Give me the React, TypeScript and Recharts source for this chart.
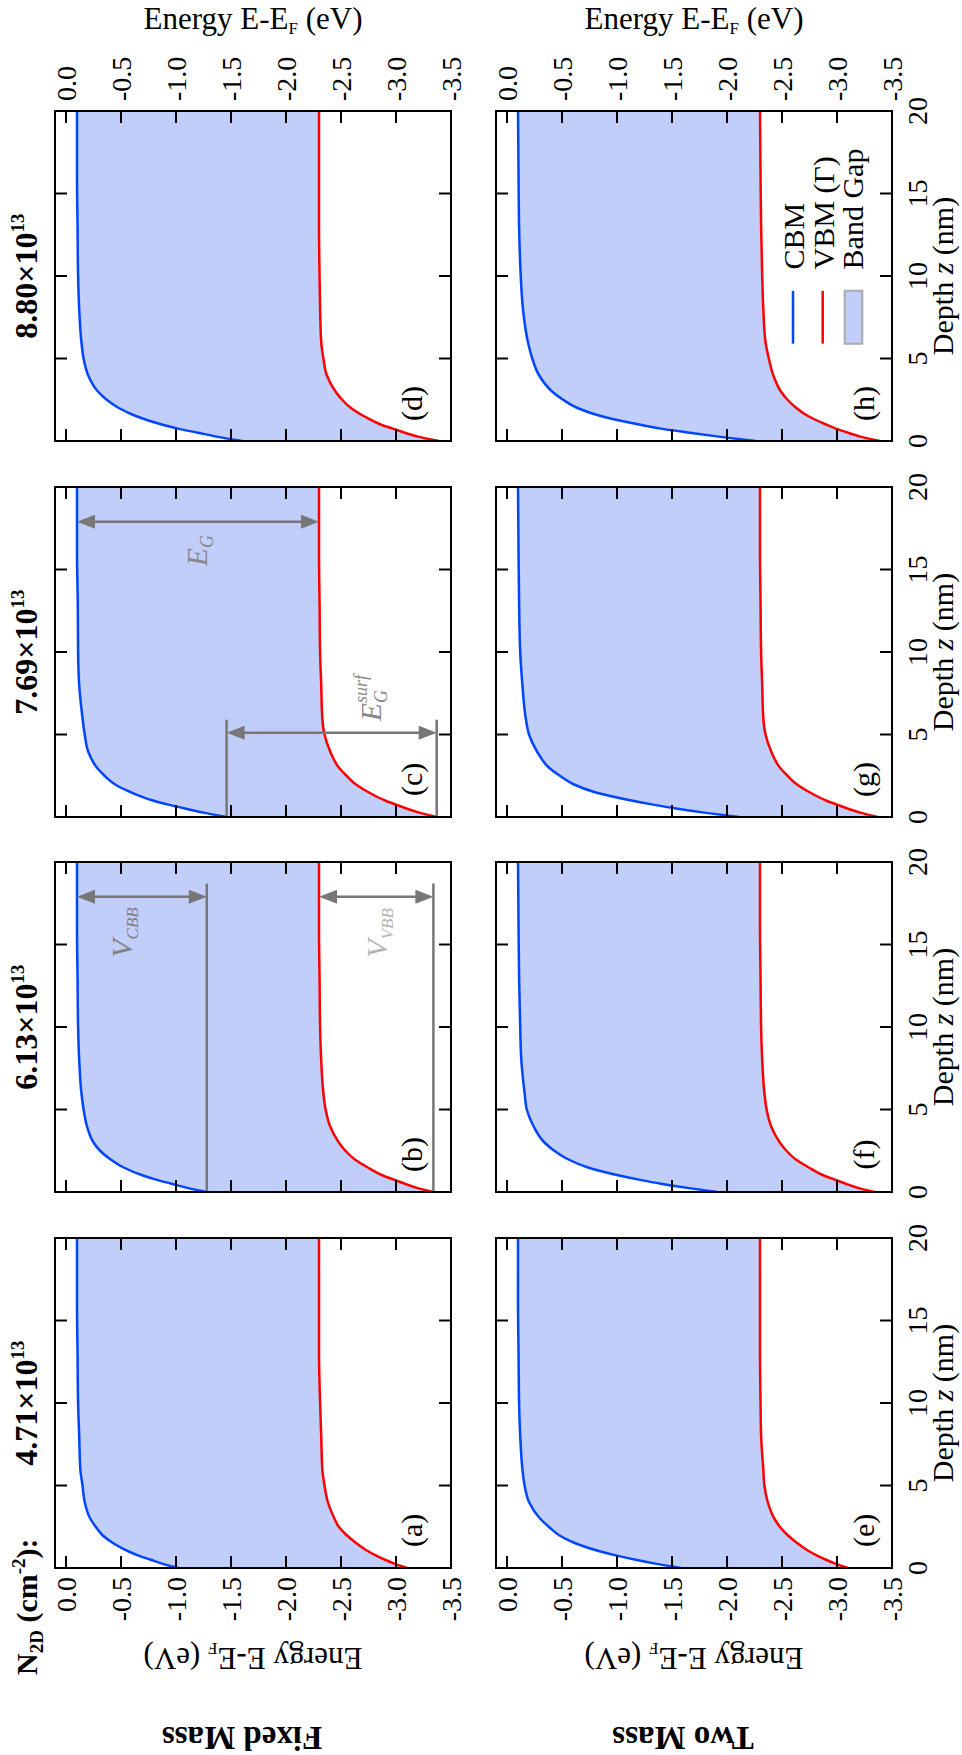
import React from "react";
import {
  ComposedChart,
  Area,
  Line,
  XAxis,
  YAxis,
  ReferenceLine,
  ReferenceDot,
  ReferenceArea,
} from "recharts";

// depth grid, nm
const depth = [0, 0.25, 0.5, 0.75, 1, 1.5, 2, 2.5, 3, 4, 5, 6, 8, 10, 13, 16, 20];

// Fixed Mass row
const cbmA = [-1.02, -0.88, -0.77, -0.66, -0.57, -0.43, -0.33, -0.27, -0.22, -0.17, -0.15, -0.13, -0.12, -0.11, -0.105, -0.1, -0.1];
const vbmA = [-3.1, -2.99, -2.9, -2.82, -2.75, -2.64, -2.55, -2.48, -2.44, -2.38, -2.35, -2.33, -2.32, -2.31, -2.3, -2.3, -2.3];
const cbmB = [-1.28, -1.1, -0.96, -0.82, -0.7, -0.52, -0.4, -0.31, -0.25, -0.19, -0.16, -0.14, -0.12, -0.11, -0.105, -0.1, -0.1];
const vbmB = [-3.34, -3.19, -3.08, -2.98, -2.88, -2.74, -2.62, -2.54, -2.48, -2.4, -2.36, -2.34, -2.32, -2.31, -2.305, -2.3, -2.3];
const cbmC = [-1.46, -1.26, -1.09, -0.93, -0.79, -0.59, -0.44, -0.35, -0.28, -0.2, -0.17, -0.15, -0.12, -0.11, -0.107, -0.1, -0.1];
const vbmC = [-3.37, -3.22, -3.1, -3.0, -2.9, -2.75, -2.63, -2.55, -2.48, -2.4, -2.35, -2.33, -2.32, -2.31, -2.305, -2.3, -2.3];
const cbmD = [-1.6, -1.38, -1.2, -1.02, -0.87, -0.64, -0.48, -0.37, -0.29, -0.2, -0.16, -0.14, -0.12, -0.11, -0.105, -0.1, -0.1];
const vbmD = [-3.39, -3.21, -3.08, -2.97, -2.86, -2.71, -2.59, -2.51, -2.45, -2.37, -2.34, -2.32, -2.31, -2.305, -2.3, -2.3, -2.3];

// Two Mass row
const cbmE = [-1.58, -1.36, -1.17, -1.0, -0.85, -0.62, -0.47, -0.38, -0.3, -0.2, -0.16, -0.14, -0.12, -0.11, -0.105, -0.1, -0.1];
const vbmE = [-3.1, -2.99, -2.9, -2.82, -2.75, -2.64, -2.55, -2.48, -2.43, -2.37, -2.34, -2.33, -2.31, -2.305, -2.3, -2.3, -2.3];
const cbmF = [-1.91, -1.64, -1.4, -1.2, -1.02, -0.73, -0.55, -0.43, -0.34, -0.24, -0.18, -0.16, -0.13, -0.12, -0.11, -0.105, -0.1];
const vbmF = [-3.34, -3.19, -3.08, -2.98, -2.88, -2.74, -2.62, -2.54, -2.48, -2.4, -2.36, -2.34, -2.32, -2.31, -2.305, -2.3, -2.3];
const cbmG = [-2.11, -1.81, -1.55, -1.33, -1.13, -0.8, -0.6, -0.48, -0.38, -0.27, -0.2, -0.17, -0.14, -0.12, -0.11, -0.105, -0.1];
const vbmG = [-3.37, -3.22, -3.1, -3.0, -2.9, -2.75, -2.63, -2.55, -2.48, -2.4, -2.35, -2.33, -2.32, -2.31, -2.305, -2.3, -2.3];
const cbmH = [-2.26, -1.94, -1.66, -1.4, -1.2, -0.86, -0.64, -0.51, -0.41, -0.29, -0.23, -0.19, -0.145, -0.125, -0.11, -0.105, -0.1];
const vbmH = [-3.39, -3.22, -3.1, -2.99, -2.9, -2.74, -2.63, -2.55, -2.49, -2.42, -2.38, -2.35, -2.33, -2.32, -2.31, -2.305, -2.3];

const densities = ["4.71", "6.13", "7.69", "8.80"];
const rowNames = ["Fixed Mass", "Two Mass"];
const energyTicks = [0, -0.5, -1, -1.5, -2, -2.5, -3, -3.5];
const depthTicks = [0, 5, 10, 15, 20];

const panels = [
  { letter: "a", cbm: cbmA, vbm: vbmA, col: 0, row: 0 },
  { letter: "b", cbm: cbmB, vbm: vbmB, col: 1, row: 0 },
  { letter: "c", cbm: cbmC, vbm: vbmC, col: 2, row: 0 },
  { letter: "d", cbm: cbmD, vbm: vbmD, col: 3, row: 0 },
  { letter: "e", cbm: cbmE, vbm: vbmE, col: 0, row: 1 },
  { letter: "f", cbm: cbmF, vbm: vbmF, col: 1, row: 1 },
  { letter: "g", cbm: cbmG, vbm: vbmG, col: 2, row: 1 },
  { letter: "h", cbm: cbmH, vbm: vbmH, col: 3, row: 1 },
];

// the figure is laid out landscape and then turned a quarter to the left
const FIG_W = 1755;
const FIG_H = 962;
const COL_X = [187, 563, 938, 1314];
const ROW_Y = [55, 496];
const PW = 330;
const PH = 396;
const M = { top: 55, right: 130, bottom: 75, left: 130 };
// axes take 1px each, so the margins are one short
const MARGIN = { top: M.top - 1, right: M.right - 1, bottom: M.bottom - 1, left: M.left - 1 };

const FONT = "'Liberation Serif', 'Times New Roman', serif";
const BLUE = "#0046ff";
const RED = "#ff0000";
const FILL = "#c1cefa";
const GRAY = "#777777";

function DepthTick(props: any) {
  const { x, y, payload, side, show } = props;
  const d = side === "bottom" ? -12 : 12;
  return (
    <g>
      <line x1={x} y1={y} x2={x} y2={y + d} stroke="#000" strokeWidth={2} />
      {show && (
        <text x={x} y={y + 35} textAnchor="middle" fontSize={28} fontFamily={FONT} fill="#000">
          {payload.value}
        </text>
      )}
    </g>
  );
}

function EnergyTick(props: any) {
  const { x, y, payload, side, show } = props;
  const d = side === "left" ? 12 : -12;
  return (
    <g>
      <line x1={x} y1={y} x2={x + d} y2={y} stroke="#000" strokeWidth={2} />
      {show && (
        <text
          x={side === "left" ? x - 9 : x + 10}
          y={y + 10}
          textAnchor={side === "left" ? "end" : "start"}
          fontSize={28}
          fontFamily={FONT}
          fill="#000"
        >
          {Number(payload.value).toFixed(1)}
        </text>
      )}
    </g>
  );
}

function DoubleArrow(props: any) {
  const { x1, y1, x2, y2 } = props;
  const len = Math.hypot(x2 - x1, y2 - y1) || 1;
  const ux = (x2 - x1) / len;
  const uy = (y2 - y1) / len;
  const px = -uy;
  const py = ux;
  const L = 18;
  const W = 7;
  const head = (tx: number, ty: number, d: number) =>
    `${tx},${ty} ${tx - d * ux * L + px * W},${ty - d * uy * L + py * W} ${tx - d * ux * L - px * W},${ty - d * uy * L - py * W}`;
  return (
    <g>
      <line
        x1={x1 + ux * L * 0.5}
        y1={y1 + uy * L * 0.5}
        x2={x2 - ux * L * 0.5}
        y2={y2 - uy * L * 0.5}
        stroke={GRAY}
        strokeWidth={2.5}
      />
      <polygon points={head(x2, y2, 1)} fill={GRAY} />
      <polygon points={head(x1, y1, -1)} fill={GRAY} />
    </g>
  );
}

function textAt(key: string, x: number, y: number, content: React.ReactNode, fill = "#000", anchor = "start") {
  return (
    <ReferenceDot
      key={key}
      xAxisId="b"
      yAxisId="l"
      x={x}
      y={y}
      r={1}
      ifOverflow="visible"
      shape={(p: any) => (
        <text x={p.cx} y={p.cy} fontSize={30} fontFamily={FONT} fill={fill} textAnchor={anchor}>
          {content}
        </text>
      )}
    />
  );
}

function seg(key: string, x1: number, y1: number, x2: number, y2: number, arrow: boolean) {
  return (
    <ReferenceLine
      key={key}
      xAxisId="b"
      yAxisId="l"
      segment={[{ x: x1, y: y1 }, { x: x2, y: y2 }]}
      stroke={GRAY}
      strokeWidth={2.5}
      ifOverflow="visible"
      shape={arrow ? (p: any) => <DoubleArrow {...p} /> : undefined}
    />
  );
}

function extras(letter: string) {
  if (letter === "b") {
    return [
      seg("b1", 0, -1.28, 18.7, -1.28, false),
      seg("b2", 0, -3.34, 18.7, -3.34, false),
      seg("b3", 17.9, -0.1, 17.9, -1.28, true),
      seg("b4", 17.9, -2.3, 17.9, -3.34, true),
      textAt(
        "b5",
        14.2,
        -0.6,
        <>
          <tspan fontStyle="italic">V</tspan>
          <tspan fontStyle="italic" fontSize={17} dy={6}>CBB</tspan>
        </>,
        "#808080"
      ),
      textAt(
        "b6",
        14.2,
        -2.92,
        <>
          <tspan fontStyle="italic">V</tspan>
          <tspan fontStyle="italic" fontSize={17} dy={6}>VBB</tspan>
        </>,
        "#b4b4b4"
      ),
    ];
  }
  if (letter === "c") {
    return [
      seg("c1", 0, -1.46, 5.9, -1.46, false),
      seg("c2", 0, -3.37, 5.9, -3.37, false),
      seg("c3", 17.9, -0.1, 17.9, -2.3, true),
      seg("c4", 5.1, -1.46, 5.1, -3.37, true),
      textAt(
        "c5",
        15.2,
        -1.28,
        <>
          <tspan fontStyle="italic">E</tspan>
          <tspan fontStyle="italic" fontSize={18} dy={6}>G</tspan>
        </>,
        "#888888"
      ),
      textAt(
        "c6",
        5.8,
        -2.86,
        <>
          <tspan fontStyle="italic">E</tspan>
          <tspan fontStyle="italic" fontSize={18} dy={6}>G</tspan>
          <tspan fontStyle="italic" fontSize={18} dx={-13} dy={-20}>surf</tspan>
        </>,
        "#888888"
      ),
    ];
  }
  if (letter === "h") {
    return [
      <ReferenceLine
        key="h1"
        xAxisId="b"
        yAxisId="l"
        segment={[{ x: 5.9, y: -2.6 }, { x: 9.1, y: -2.6 }]}
        stroke={BLUE}
        strokeWidth={2.5}
      />,
      <ReferenceLine
        key="h2"
        xAxisId="b"
        yAxisId="l"
        segment={[{ x: 5.9, y: -2.87 }, { x: 9.1, y: -2.87 }]}
        stroke={RED}
        strokeWidth={2.5}
      />,
      <ReferenceArea
        key="h3"
        xAxisId="b"
        yAxisId="l"
        x1={5.9}
        x2={9.1}
        y1={-3.07}
        y2={-3.23}
        fill={FILL}
        fillOpacity={1}
        stroke="#aaaaaa"
        strokeWidth={2}
      />,
      textAt("h4", 10.4, -2.7, "CBM"),
      textAt("h5", 10.4, -2.97, "VBM (Γ)"),
      textAt("h6", 10.4, -3.24, "Band Gap"),
    ];
  }
  return [];
}

function Panel({ letter, cbm, vbm, col, row }: any) {
  const data = depth.map((z, i) => ({ z, cbm: cbm[i], vbm: vbm[i], gap: [vbm[i], cbm[i]] }));
  const axisLine = { stroke: "#000", strokeWidth: 2, strokeLinecap: "square" as const };
  return (
    <div style={{ position: "absolute", left: COL_X[col] - M.left, top: ROW_Y[row] - M.top }}>
      <ComposedChart width={PW + M.left + M.right} height={PH + M.top + M.bottom} data={data} margin={MARGIN}>
        <Area
          xAxisId="b"
          yAxisId="l"
          dataKey="gap"
          type="monotone"
          fill={FILL}
          fillOpacity={1}
          stroke="none"
          isAnimationActive={false}
        />
        <Line xAxisId="b" yAxisId="l" dataKey="cbm" type="monotone" stroke={BLUE} strokeWidth={2.5} dot={false} isAnimationActive={false} />
        <Line xAxisId="b" yAxisId="l" dataKey="vbm" type="monotone" stroke={RED} strokeWidth={2.5} dot={false} isAnimationActive={false} />
        <XAxis
          xAxisId="b"
          dataKey="z"
          type="number"
          domain={[0, 20]}
          ticks={depthTicks}
          interval={0}
          height={1}
          tickSize={0}
          tickMargin={0}
          tickLine={false}
          axisLine={axisLine}
          allowDataOverflow
          tick={(p: any) => <DepthTick {...p} side="bottom" show={row === 1} />}
        />
        <XAxis
          xAxisId="t"
          orientation="top"
          dataKey="z"
          type="number"
          domain={[0, 20]}
          ticks={depthTicks}
          interval={0}
          height={1}
          tickSize={0}
          tickMargin={0}
          tickLine={false}
          axisLine={axisLine}
          allowDataOverflow
          tick={(p: any) => <DepthTick {...p} side="top" show={false} />}
        />
        <YAxis
          yAxisId="l"
          type="number"
          domain={[-3.5, 0.1]}
          ticks={energyTicks}
          interval={0}
          width={1}
          tickSize={0}
          tickMargin={0}
          tickLine={false}
          axisLine={axisLine}
          allowDataOverflow
          tick={(p: any) => <EnergyTick {...p} side="left" show={col === 0} />}
        />
        <YAxis
          yAxisId="r"
          orientation="right"
          type="number"
          domain={[-3.5, 0.1]}
          ticks={energyTicks}
          interval={0}
          width={1}
          tickSize={0}
          tickMargin={0}
          tickLine={false}
          axisLine={axisLine}
          allowDataOverflow
          tick={(p: any) => <EnergyTick {...p} side="right" show={col === 3} />}
        />
        {textAt("lab", 2.28, row === 0 ? -3.24 : -3.34, `(${letter})`, "#000", "middle")}
        {extras(letter)}
      </ComposedChart>
    </div>
  );
}

function Labels() {
  const rowMid = ROW_Y.map((y) => y + PH / 2);
  const colMid = COL_X.map((x) => x + PW / 2);
  return (
    <svg
      width={FIG_W}
      height={FIG_H}
      style={{ position: "absolute", left: 0, top: 0, pointerEvents: "none" }}
      fontFamily={FONT}
    >
      <text x={80} y={37} fontSize={30} fontWeight="bold">
        N<tspan fontSize={19} dy={6}>2D</tspan>
        <tspan dy={-6}> (cm</tspan>
        <tspan fontSize={19} dy={-12}>-2</tspan>
        <tspan dy={12}>):</tspan>
      </text>
      {densities.map((d, i) => (
        <text key={d} x={colMid[i]} y={37} fontSize={32} fontWeight="bold" textAnchor="middle">
          {d}×10<tspan fontSize={19} dy={-13}>13</tspan>
        </text>
      ))}
      {rowNames.map((name, r) => (
        <text
          key={name}
          x={28}
          y={rowMid[r] - 11}
          fontSize={33}
          fontWeight="bold"
          textAnchor="middle"
          transform={`rotate(-90, 28, ${rowMid[r] - 11})`}
        >
          {name}
        </text>
      ))}
      {rowMid.map((cy, r) => (
        <g key={r}>
          <text x={107} y={cy} fontSize={31} textAnchor="middle" transform={`rotate(-90, 107, ${cy})`}>
            Energy E-E<tspan fontSize={17} dy={5}>F</tspan>
            <tspan dy={-5}> (eV)</tspan>
          </text>
          <text x={1726} y={cy} fontSize={31} textAnchor="middle" transform={`rotate(90, 1726, ${cy})`}>
            Energy E-E<tspan fontSize={17} dy={5}>F</tspan>
            <tspan dy={-5}> (eV)</tspan>
          </text>
        </g>
      ))}
      {colMid.map((cx, i) => (
        <text key={i} x={cx} y={953} fontSize={30} textAnchor="middle">
          Depth <tspan fontStyle="italic">z</tspan> (nm)
        </text>
      ))}
    </svg>
  );
}

export default function App() {
  return (
    <div
      style={{
        position: "absolute",
        left: 0,
        top: 0,
        width: FIG_H,
        height: FIG_W,
        overflow: "hidden",
        background: "#fff",
      }}
    >
      <div
        style={{
          position: "absolute",
          left: 0,
          top: 0,
          width: FIG_W,
          height: FIG_H,
          transformOrigin: "0 0",
          transform: `translate(0px, ${FIG_W}px) rotate(-90deg)`,
        }}
      >
        {panels.map((p) => (
          <Panel key={p.letter} {...p} />
        ))}
        <Labels />
      </div>
    </div>
  );
}
